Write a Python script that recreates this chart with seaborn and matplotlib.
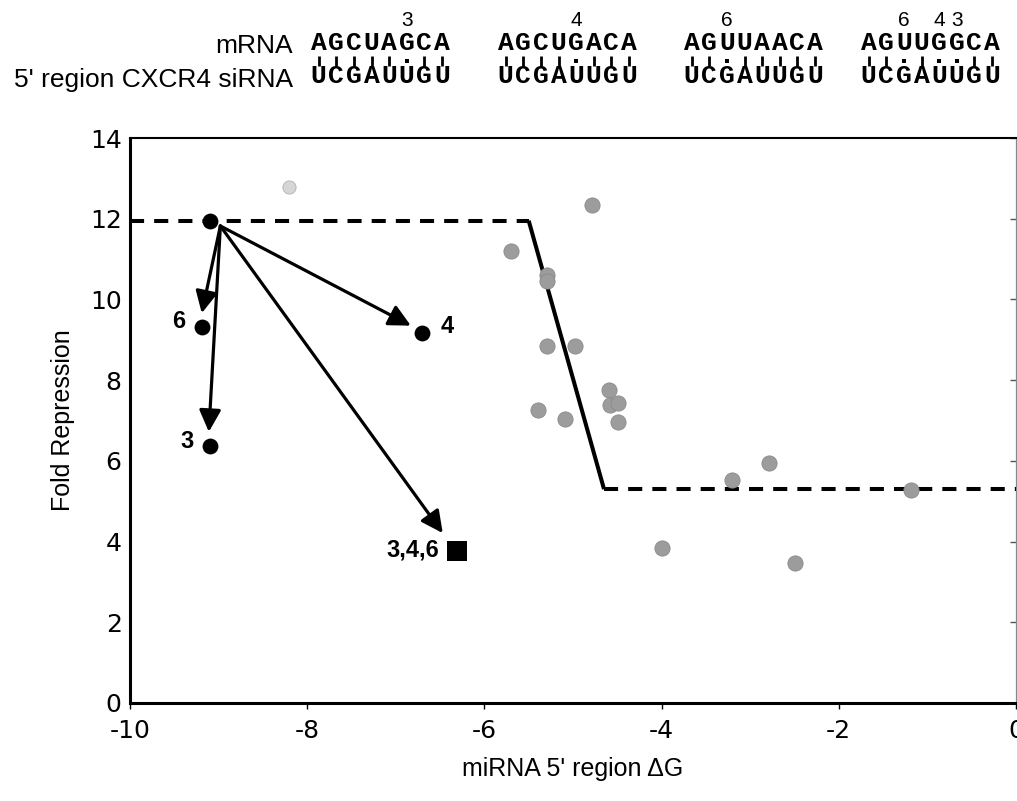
import numpy as np
import pandas as pd
import matplotlib
matplotlib.use("Agg")
import matplotlib.pyplot as plt
import seaborn as sns

# ---------------- data ----------------
gray_dg = [-5.70, -5.29, -5.29, -4.79, -5.29, -4.98, -4.59, -4.58, -4.49, -4.49,
           -5.39, -5.09, -2.79, -3.20, -1.19, -2.50, -3.99]
gray_fold = [11.20, 10.60, 10.45, 12.34, 8.85, 8.85, 7.76, 7.38, 7.44, 6.97,
             7.25, 7.03, 5.94, 5.53, 5.28, 3.46, 3.84]
faint_dg = [-8.20]
faint_fold = [12.78]

mut_labels = ["", "6", "3", "4"]
mut_dg = [-9.10, -9.19, -9.10, -6.70]
mut_fold = [11.94, 9.32, 6.37, 9.17]

triple_label = ["3,4,6"]
triple_dg = [-6.31]
triple_fold = [3.77]

arrow_start_dg = -8.98
arrow_start_fold = 11.82
arrow_tip_dg = [-9.19, -9.11, -6.83, -6.47]
arrow_tip_fold = [9.66, 6.72, 9.35, 4.21]

threshold_dg = [-10.0, -5.50, -4.65, 0.0]
threshold_fold = [11.95, 11.95, 5.30, 5.30]

x_ticks = [-10, -8, -6, -4, -2, 0]
y_ticks = [0, 2, 4, 6, 8, 10, 12, 14]

mrna_seqs = ["AGCUAGCA", "AGCUGACA", "AGUUAACA", "AGUUGGCA"]
sirna_seq = "UCGAUUGU"
row_labels = ["mRNA", "5' region CXCR4 siRNA"]

# ---------------- style ----------------
sns.set_theme(style="white")
plt.rcParams['font.family'] = ['Liberation Sans', 'DejaVu Sans']
plt.rcParams['axes.unicode_minus'] = False
for k in ["text.color", "axes.labelcolor", "xtick.color", "ytick.color"]:
    plt.rcParams[k] = "black"

W, H = 1017, 801
fig = plt.figure(figsize=(W / 100, H / 100), dpi=100)
ax = fig.add_axes([130 / W, (H - 703) / H, 886 / W, 565 / H])

dash = (0, (3.5, 2.5))
lw_thr = 2.9
seg1 = pd.DataFrame({"dg": threshold_dg[0:2], "fold": threshold_fold[0:2]})
seg2 = pd.DataFrame({"dg": threshold_dg[1:3], "fold": threshold_fold[1:3]})
seg3 = pd.DataFrame({"dg": threshold_dg[2:4], "fold": threshold_fold[2:4]})
sns.lineplot(data=seg1, x="dg", y="fold", color="black", lw=lw_thr, linestyle=dash,
             dash_capstyle="butt", estimator=None, sort=False, ax=ax, zorder=2)
sns.lineplot(data=seg2, x="dg", y="fold", color="black", lw=lw_thr,
             estimator=None, sort=False, ax=ax, zorder=2, solid_capstyle="butt")
sns.lineplot(data=seg3, x="dg", y="fold", color="black", lw=lw_thr, linestyle=dash,
             dash_capstyle="butt", estimator=None, sort=False, ax=ax, zorder=2)

sns.scatterplot(x=gray_dg, y=gray_fold, color="#9c9c9c", s=120, edgecolor="#8a8a8a",
                linewidth=0.6, ax=ax, zorder=3)
sns.scatterplot(x=faint_dg, y=faint_fold, color="#d6d6d6", s=90, edgecolor="#b0b0b0",
                linewidth=0.6, ax=ax, zorder=3)
sns.scatterplot(x=mut_dg, y=mut_fold, color="black", s=130, edgecolor="black",
                linewidth=0, ax=ax, zorder=4)
sns.scatterplot(x=triple_dg, y=triple_fold, color="black", marker="s", s=210,
                edgecolor="black", linewidth=0, ax=ax, zorder=4)

for tx, ty in zip(arrow_tip_dg, arrow_tip_fold):
    ax.annotate("", xy=(tx, ty), xytext=(arrow_start_dg, arrow_start_fold),
                arrowprops=dict(arrowstyle="-|>,head_length=0.6,head_width=0.3",
                                mutation_scale=22, color="black", lw=2.3,
                                shrinkA=0, shrinkB=0), zorder=5)

label_offsets = [(0, 0), (-16.8, 3.6), (-16.6, 2.9), (17.6, 4.3)]
for lab, x, y, off in zip(mut_labels, mut_dg, mut_fold, label_offsets):
    if lab:
        ax.annotate(lab, xy=(x, y), xytext=off, textcoords="offset points",
                    ha="center", va="center", fontsize=17, fontweight="bold",
                    color="black")
for lab, x, y in zip(triple_label, triple_dg, triple_fold):
    ax.annotate(lab, xy=(x, y), xytext=(-12.5, 0.5), textcoords="offset points",
                ha="right", va="center", fontsize=17, fontweight="bold", color="black")

ax.set_xlim(-10, 0)
ax.set_ylim(0, 14)
ax.set_xticks(x_ticks)
ax.set_yticks(y_ticks)
ax.set_xticklabels([str(v) for v in x_ticks], family="DejaVu Sans", fontsize=18)
ax.set_yticklabels([str(v) for v in y_ticks], family="DejaVu Sans", fontsize=18)
ax.tick_params(axis="x", bottom=True, direction="out", length=4.5, width=1,
               color="black", labelcolor="black", pad=7)
ax.tick_params(axis="y", left=True, length=0, pad=6, labelcolor="black")
ax.set_xlabel("miRNA 5' region ΔG", fontsize=18, labelpad=10, color="black")
ax.set_ylabel("Fold Repression", fontsize=18, labelpad=11, color="black")

for s in ["left", "bottom"]:
    ax.spines[s].set_color("black")
    ax.spines[s].set_linewidth(2.2)
ax.spines["top"].set_color("black")
ax.spines["top"].set_linewidth(1.5)
ax.spines["right"].set_visible(False)

sec = ax.secondary_yaxis("right")
sec.set_yticks(y_ticks)
sec.tick_params(direction="in", length=4, width=1, labelright=False, color="#555555")
sec.spines["right"].set_color("#888888")
sec.spines["right"].set_linewidth(0.9)

# ---------------- header alignment (pixel-coordinate overlay) ----------------
hx = fig.add_axes([0, 0, 1, 1], zorder=-1)
hx.set_xlim(0, W)
hx.set_ylim(H, 0)
hx.axis("off")
hx.patch.set_alpha(0)

wc = {("A", "U"), ("U", "A"), ("G", "C"), ("C", "G")}
wobble = {("G", "U"), ("U", "G")}

seq_start = [310, 497, 683, 860]
pitch = 17.6
bar_x, dot_x = [], []
for seq, x0 in zip(mrna_seqs, seq_start):
    n = len(seq)
    for i, (m, s) in enumerate(zip(seq, sirna_seq)):
        cx = x0 + (i + 0.5) * pitch
        hx.text(cx, 50, m, ha="center", va="baseline", color="black",
                family="Liberation Mono", fontweight="bold", fontsize=19)
        hx.text(cx, 83.3, s, ha="center", va="baseline", color="black",
                family="Liberation Mono", fontweight="bold", fontsize=19)
        if (m, s) in wc:
            bar_x.append(cx)
        elif (m, s) in wobble:
            dot_x.append(cx)
            hx.text(cx, 26.5, str(n - i), ha="center", va="baseline", fontsize=15,
                    color="black")

hx.scatter(bar_x, [61] * len(bar_x), marker="|", s=55, linewidths=2.0, color="black")
hx.scatter(dot_x, [61] * len(dot_x), marker="s", s=12, linewidths=0, color="black")

hx.text(293, 53.3, row_labels[0], ha="right", va="baseline", fontsize=19, color="black")
hx.text(293, 86.7, row_labels[1], ha="right", va="baseline", fontsize=19, color="black")

fig.savefig("out.png", dpi=100)
